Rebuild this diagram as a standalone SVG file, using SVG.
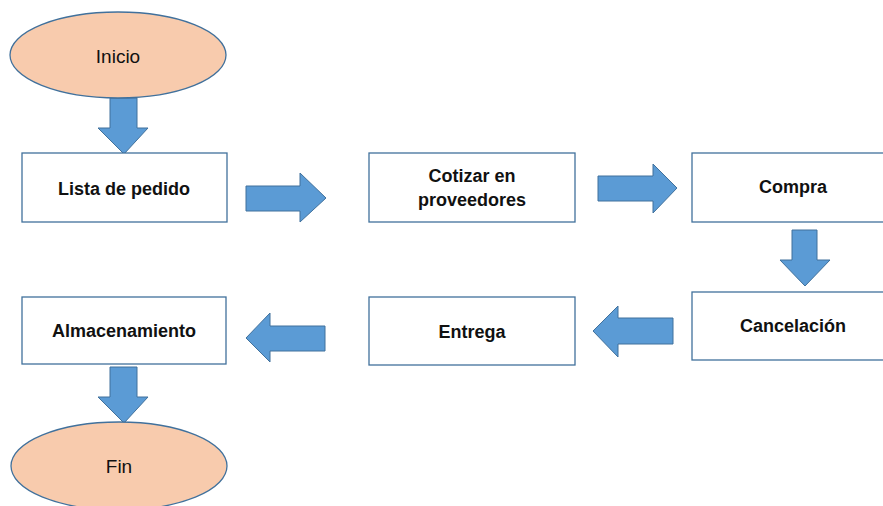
<svg xmlns="http://www.w3.org/2000/svg" width="883" height="506" viewBox="0 0 883 506">
<style>
.term{fill:#F8CBAD;stroke:#41719C;stroke-width:1.3}
.box{fill:#FFFFFF;stroke:#41719C;stroke-width:1.3}
.arr{fill:#5B9BD5;stroke:#41719C;stroke-width:1}
.t{font-family:"Liberation Sans",Arial,sans-serif;font-size:18px;font-weight:bold;fill:#111;text-anchor:middle}
.tr{font-family:"Liberation Sans",Arial,sans-serif;font-size:19px;fill:#111;text-anchor:middle}
</style>
<rect width="883" height="506" fill="#FFFFFF"/>
<g id="connectors">
<polygon class="arr" points="110,98 137,98 137,128 148,128 124,154 98,128 110,128"/>
<polygon class="arr" points="246,186 300,186 300,173 326,198 300,222 300,211 246,211"/>
<polygon class="arr" points="598,176 653,176 653,164 677,188 653,213 653,201 598,201"/>
<polygon class="arr" points="792,230 817,230 817,260 830,260 805,286 780,260 792,260"/>
<polygon class="arr" points="673,318 618,318 618,306 593,331 618,357 618,344 673,344"/>
<polygon class="arr" points="325,326 270,326 270,313 246,338 270,362 270,351 325,351"/>
<polygon class="arr" points="110,367 137,367 137,397 148,397 124,423 98,397 110,397"/>
</g>
<g id="inicio">
<ellipse class="term" cx="118" cy="55" rx="108" ry="43"/>
<text class="tr" x="118" y="63">Inicio</text>
</g>
<g id="lista">
<rect class="box" x="22" y="153" width="205" height="69"/>
<text class="t" x="124" y="195">Lista de pedido</text>
</g>
<g id="cotizar">
<rect class="box" x="369" y="153" width="206" height="69"/>
<text class="t" x="472" y="182">Cotizar en</text>
<text class="t" x="472" y="206">proveedores</text>
</g>
<g id="compra">
<rect class="box" x="692" y="153" width="205" height="69"/>
<text class="t" x="793" y="193">Compra</text>
</g>
<g id="cancelacion">
<rect class="box" x="692" y="292" width="205" height="68"/>
<text class="t" x="793" y="332">Cancelación</text>
</g>
<g id="entrega">
<rect class="box" x="369" y="297" width="206" height="68"/>
<text class="t" x="472" y="338">Entrega</text>
</g>
<g id="almacenamiento">
<rect class="box" x="22" y="297" width="204" height="67"/>
<text class="t" x="124" y="337">Almacenamiento</text>
</g>
<g id="fin">
<ellipse class="term" cx="119" cy="466" rx="108" ry="44"/>
<text class="tr" x="119" y="473">Fin</text>
</g>
</svg>
